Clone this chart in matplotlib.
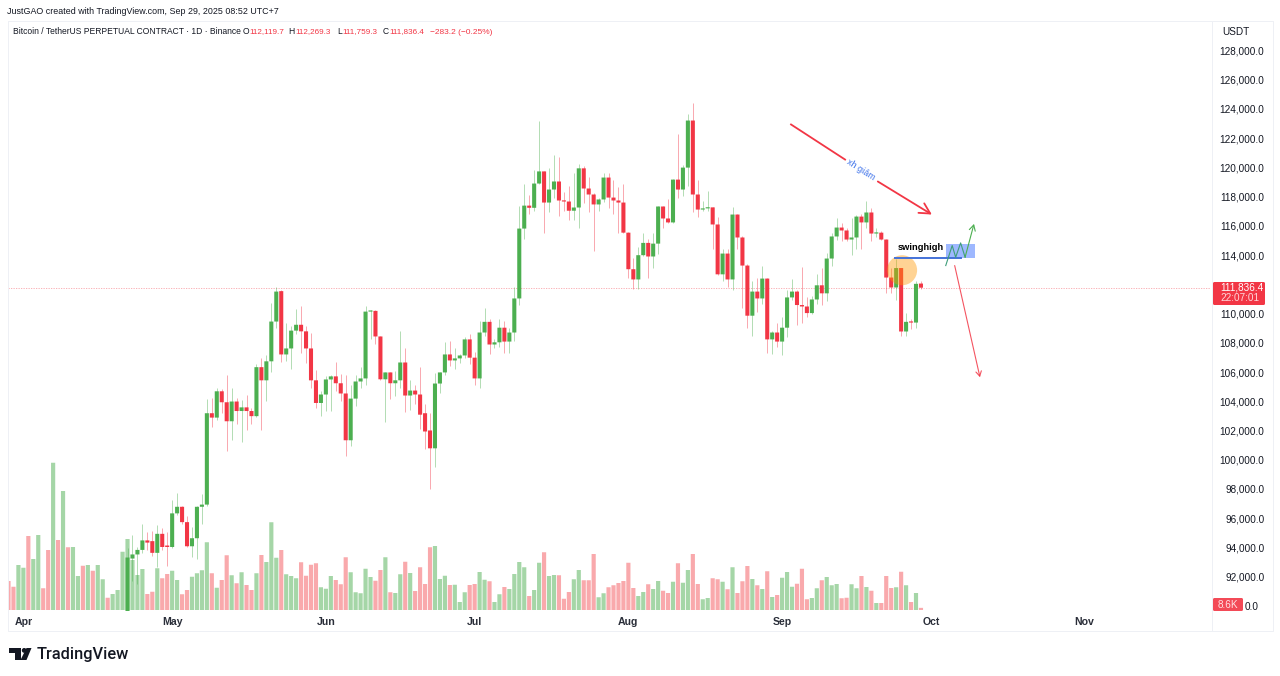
import matplotlib
matplotlib.use('Agg')
import matplotlib.pyplot as plt
import numpy as np
from matplotlib.patches import Ellipse, FancyBboxPatch, Polygon, Rectangle

plt.rcParams['font.family'] = ['Liberation Sans', 'DejaVu Sans']

RED = '#f23645'
GREEN = '#4caf50'
DARK = '#131722'

# daily bars from 2025-03-29, price candles start at bar 24 (earlier ones sit below the pane)
candle_start = 24

open_ = [
    87500, 93310, 93590, 93900, 94550, 94500, 93700, 95000, 94200, 94100,
    96400, 96850, 95800, 94150, 94700, 96850, 97000, 103250, 102950, 104750,
    104000, 102700, 104050, 103400, 103650, 103400, 103050, 106400, 105500, 106800,
    109520, 111600, 107270, 107680, 108900, 109300, 108850, 107680, 105500, 103950,
    104530, 105560, 105770, 105300, 104600, 101400, 104250, 105420, 105630, 110200,
    110250, 108500, 105570, 106040, 105300, 105500, 106720, 104460, 104800, 104530,
    103250, 102070, 100850, 105280, 106040, 107270, 106860, 107000, 107200, 108300,
    107050, 105630, 108770, 109500, 107950, 108100, 109100, 108150, 108770, 111100,
    115880, 117450, 117300, 118960, 119790, 117660, 118550, 119100, 117800, 117730,
    117100, 117320, 120000, 118620, 118210, 117530, 117870, 119370, 118000, 117800,
    117660, 115600, 113100, 112400, 114060, 114900, 113970, 114850, 117390, 116570,
    116300, 119230, 118550, 120050, 123270, 118210, 117180, 117260, 117330, 116160,
    112750, 114170, 112400, 116840, 115270, 113350, 109920, 111570, 111100, 112460,
    108300, 108770, 108150, 109100, 111170, 111570, 110650, 110550, 110100, 111030,
    112000, 111450, 113830, 115340, 115950, 115750, 115130, 115270, 116700, 116300,
    116980, 115540, 115600, 115130, 112530, 111850, 113180, 108840, 109500, 109450,
    112119.7,
]
close = [
    93380, 93590, 93900, 94550, 94400, 93700, 95000, 94100, 94100, 96400,
    96850, 95800, 94150, 94700, 96850, 97000, 103250, 102950, 104750, 104000,
    102700, 104050, 103400, 103650, 103400, 103050, 106400, 105500, 106800, 109520,
    111570, 107270, 107680, 108900, 109300, 108850, 107680, 105500, 103950, 104530,
    105560, 105770, 105300, 104600, 101400, 104250, 105420, 105630, 110200, 110250,
    108500, 105570, 106040, 105300, 105500, 106720, 104460, 104800, 104530, 103150,
    102000, 100850, 105280, 106040, 107270, 106860, 107000, 107200, 108300, 107050,
    105630, 108770, 109500, 107950, 108100, 109100, 108150, 108770, 111100, 115880,
    117450, 117300, 118960, 119790, 117660, 118550, 119100, 117800, 117730, 117100,
    117320, 120000, 118620, 118210, 117530, 117870, 119370, 118000, 117800, 117660,
    115600, 113100, 112400, 114060, 114900, 113970, 114850, 117390, 116570, 116300,
    119230, 118550, 120050, 123270, 118210, 117180, 117260, 117330, 116160, 112750,
    114170, 112400, 116840, 115270, 113350, 109920, 111570, 111100, 112460, 108300,
    108770, 108150, 109100, 111170, 111570, 110650, 110550, 110100, 111030, 112000,
    111450, 113830, 115340, 115950, 115750, 115130, 115270, 116700, 116300, 116980,
    115540, 115600, 115130, 112530, 111850, 113180, 108840, 109500, 109450, 112100,
    111836.4,
]
high = [
    94000, 94900, 94100, 95700, 95100, 95200, 95600, 95400, 95100, 97300,
    97800, 96900, 96200, 95450, 96900, 97700, 104250, 104300, 104950, 104900,
    105850, 104950, 104300, 104150, 104530, 103600, 106650, 107060, 107200, 110800,
    111850, 111650, 109400, 109250, 110350, 110600, 109230, 108770, 106240, 104800,
    105770, 105850, 106720, 105900, 105850, 105200, 105850, 106440, 110550, 110300,
    110300, 108550, 106100, 106100, 106170, 108840, 107680, 105500, 105150, 106440,
    103900, 103250, 105970, 106100, 108100, 108220, 107680, 107300, 108450, 108700,
    107470, 109590, 110430, 109700, 108360, 109700, 109590, 109100, 111900, 117400,
    118900, 118150, 119860, 123270, 119800, 120050, 120880, 120800, 118350, 118760,
    119650, 120300, 120150, 119440, 118280, 118000, 119710, 119710, 119230, 118690,
    118900, 115650, 113900, 114650, 115600, 115200, 115600, 117450, 117450, 117870,
    119250, 122380, 120260, 123700, 124500, 119170, 117800, 118480, 117350, 116640,
    114500, 114500, 117330, 116900, 115400, 113490, 112270, 112530, 113350, 112530,
    108840, 109450, 109800, 111650, 112460, 111650, 113280, 111170, 111300, 112800,
    113150, 114240, 115600, 116570, 116230, 115950, 116570, 116840, 116900, 117800,
    117320, 115950, 115700, 115150, 113150, 113830, 113200, 110100, 109700, 112270,
    112269.3,
]
low = [
    87000, 91800, 91600, 93700, 93900, 93500, 92700, 93900, 92800, 94000,
    96300, 95700, 94100, 93400, 93300, 95700, 96900, 102300, 102800, 103250,
    100700, 101400, 102500, 101300, 102100, 102500, 103000, 102070, 104100, 106040,
    109100, 106720, 106800, 106250, 108700, 107400, 106700, 105000, 103600, 103050,
    103400, 103400, 104800, 104100, 100300, 101000, 103750, 104950, 105200, 108300,
    108000, 105500, 102650, 104250, 104400, 104950, 103300, 103450, 103900, 102200,
    100770, 98100, 99550, 104600, 105850, 106500, 106300, 106700, 107050, 106650,
    105150, 105000, 108500, 107270, 107680, 107750, 107400, 107400, 108220, 110650,
    115200, 116850, 117100, 118900, 115600, 117000, 118000, 116770, 117100, 116500,
    116500, 115900, 117660, 117000, 114340, 117050, 117730, 117320, 116850, 115600,
    115550, 112500, 111750, 111750, 113970, 112500, 113200, 114170, 115900, 116270,
    116270, 118000, 118140, 118760, 117000, 116700, 117100, 117100, 114500, 112680,
    112270, 111850, 111660, 114450, 110480, 109100, 108500, 110200, 110750, 107400,
    107270, 107750, 107200, 108430, 111000, 109300, 109440, 109800, 110030, 110750,
    110650, 110900, 113350, 115070, 115000, 115000, 114040, 114500, 114450, 115950,
    115000, 115270, 115070, 111450, 111450, 111000, 108500, 108500, 109000, 109050,
    111759.3,
]

# volume in thousands, one per bar
volume = [
    116, 93, 180, 169, 296, 204, 300, 87, 240, 589, 280, 476, 251, 252, 136, 177, 180, 157, 180, 123,
    49, 64, 80, 233, 284, 200, 140, 164, 64, 73, 167, 127, 144, 157, 120, 63, 80, 133, 147, 159,
    271, 147, 89, 120, 219, 139, 107, 151, 100, 80, 147, 220, 192, 351, 209, 240, 143, 136, 127, 191,
    137, 181, 187, 91, 85, 136, 120, 103, 211, 151, 71, 67, 165, 132, 117, 160, 211, 71, 68, 143,
    193, 148, 76, 171, 104, 251, 256, 124, 137, 100, 101, 32, 71, 100, 104, 152, 121, 115, 32, 63,
    92, 84, 144, 192, 171, 56, 80, 189, 231, 136, 140, 139, 45, 72, 123, 160, 119, 119, 224, 51,
    67, 91, 99, 108, 116, 189, 88, 56, 72, 103, 84, 116, 77, 68, 113, 187, 109, 160, 224, 104,
    43, 48, 127, 123, 113, 83, 171, 68, 115, 176, 124, 99, 84, 155, 52, 60, 129, 152, 93, 105,
    165, 43, 48, 87, 119, 132, 99, 104, 47, 49, 103, 87, 136, 92, 77, 28, 28, 136, 88, 91,
    153, 99, 32, 68, 8.6,
]
# up/down of the first bars, the candles for those are off the pane
early_up = [0, 0, 1, 1, 0, 1, 1, 0, 0, 1, 0, 1, 0, 1, 1, 0, 1, 0, 1, 1, 0, 1, 1, 1]

month_labels = ['Apr', 'May', 'Jun', 'Jul', 'Aug', 'Sep', 'Oct', 'Nov']
month_bars = [3, 33, 64, 94, 125, 156, 186, 217]
price_ticks = [p for p in range(92000, 130000, 2000) if p != 112000]

last_price = close[-1]

# drawings on the chart, (bar, price)
trend_a = [(157.8, 123000), (168.7, 120600)]
trend_b = [(175.3, 119100), (186.2, 116840)]
zigzag_bars = [189.0, 190.3, 191.0, 192.0, 192.9, 194.7]
zigzag_prices = [113350, 114720, 113920, 114900, 113920, 116200]
down_arrow = [(190.8, 113350), (195.9, 105710)]
box_bars = (189.0, 194.9)
box_prices = (113850, 114840)
swing_bars = (178.7, 192.0)
swing_price = 113850
circle_center = (180.2, 113030)

W, H = 1280, 676
left, right, top, bottom = 8, 1211, 21, 611
x0 = 8.5
px_per_bar = 4.959
price_per_px = 68.4


def price_at(y):
    return 117800 - price_per_px * (y - 200.5)


fig = plt.figure(figsize=(W / 100, H / 100), dpi=100, facecolor='white')
rect = [left / W, 1 - bottom / H, (right - left) / W, (bottom - top) / H]

ax_vol = fig.add_axes(rect)
ax = fig.add_axes(rect, sharex=ax_vol)
ax.patch.set_visible(False)

# volume first so the candles stay on top
x_all = np.arange(len(volume))
up_flags = early_up + [c >= o for o, c in zip(open_, close)]
vol_colors = ['#a5d6a7' if u else '#f9a9ac' for u in up_flags]
vol_bars = ax_vol.bar(x_all, volume, width=0.84, color=vol_colors, linewidth=0)
for b in vol_bars:
    b.set_snap(False)
ax_vol.set_ylim(-4, (bottom - top - 1) * 4)
ax_vol.axis('off')

x = np.arange(candle_start, candle_start + len(close))
o = np.array(open_)
c = np.array(close)
colors = [GREEN if b >= a else RED for a, b in zip(open_, close)]
ax.vlines(x, low, high, colors=colors, linewidth=0.6, alpha=0.5, zorder=2)
bodies = ax.bar(x, np.maximum(np.abs(c - o), 80), bottom=np.minimum(o, c), width=0.82, color=colors, linewidth=0, zorder=3)
for b in bodies:
    b.set_snap(False)

ax.set_xlim((left - x0) / px_per_bar, (right - x0) / px_per_bar)
ax.set_ylim(price_at(bottom), price_at(top))

ax.axhline(last_price, color=RED, lw=0.6, ls=(0, (1.5, 1.5)), alpha=0.45, zorder=1)

# drawings
ax.add_patch(Ellipse(circle_center, 30 / px_per_bar, 30 * price_per_px, color='#ff9800', alpha=0.42, lw=0, zorder=4))
ax.add_patch(Rectangle((box_bars[0], box_prices[0]), box_bars[1] - box_bars[0], box_prices[1] - box_prices[0],
                       color='#2962ff', alpha=0.45, lw=0, zorder=4))
ax.plot(swing_bars, [swing_price, swing_price], color='#4472d8', lw=1.4, zorder=5)
ax.text(179.4, price_at(247.7), 'swinghigh', fontsize=6.7, fontweight='bold', color='black', va='center', zorder=6)

ax.plot(*zip(*trend_a), color=RED, lw=1.3, zorder=5)
ax.annotate('', xy=trend_b[1], xytext=trend_b[0], zorder=5,
            arrowprops=dict(arrowstyle='->,head_length=0.75,head_width=0.4', color=RED, lw=1.3, shrinkA=0, shrinkB=0))
ax.text(171.8, price_at(169.5), 'xh giảm', fontsize=6.5, color='#3f73ea', rotation=-32.7,
        rotation_mode='anchor', ha='center', va='center', zorder=6)
ax.plot(zigzag_bars[:-1], zigzag_prices[:-1], color='#3f9e7a', lw=0.8, zorder=5)
ax.annotate('', xy=(zigzag_bars[-1], zigzag_prices[-1]), xytext=(zigzag_bars[-2], zigzag_prices[-2]), zorder=5,
            arrowprops=dict(arrowstyle='->,head_length=0.4,head_width=0.22', color=GREEN, lw=0.8, shrinkA=0, shrinkB=0))
ax.annotate('', xy=down_arrow[1], xytext=down_arrow[0], zorder=5,
            arrowprops=dict(arrowstyle='->,head_length=0.35,head_width=0.2', color=RED, lw=0.8, alpha=0.85, shrinkA=0, shrinkB=0))

# axes text
ax.set_xticks(month_bars)
ax.set_xticklabels(month_labels, fontsize=7.6, fontweight='bold', color='#2a2e39')
ax.xaxis.set_tick_params(length=0, pad=4.5)
ax.yaxis.tick_right()
ax.set_yticks(price_ticks)
ax.set_yticklabels([f'{p:,.1f}' for p in price_ticks], fontsize=7.2, color=DARK, ha='right', va='center')
ax.yaxis.set_tick_params(length=0, pad=38.5)
for s in ax.spines.values():
    s.set_visible(False)

# page furniture, in pixels
page = fig.add_axes([0, 0, 1, 1], zorder=10)
page.set_xlim(0, W)
page.set_ylim(H, 0)
page.axis('off')
page.patch.set_visible(False)

frame = '#eef0f5'
page.plot([7.5, 1272.5, 1272.5, 7.5, 7.5], [21, 21, 631, 631, 21], color=frame, lw=0.7)
page.plot([1211.5, 1211.5], [21, 631], color=frame, lw=0.7)
page.text(7, 12, 'JustGAO created with TradingView.com, Sep 29, 2025 08:52 UTC+7', fontsize=6.4, color=DARK, va='center')
page.text(13, 32, 'Bitcoin / TetherUS PERPETUAL CONTRACT · 1D · Binance', fontsize=6.15, color=DARK, va='center')
for xp, lab, val_x, val in [(243, 'O', 249, '112,119.7'), (288, 'H', 295, '112,269.3'),
                            (337, 'L', 342, '111,759.3'), (383, 'C', 389, '111,836.4')]:
    page.text(xp, 32, lab, fontsize=6.15, color=DARK, va='center')
    page.text(val_x, 32, val, fontsize=5.9, color=RED, va='center')
page.text(430, 32, '−283.2 (−0.25%)', fontsize=6.0, color=RED, va='center')
page.text(1222, 32, 'USDT', fontsize=7.2, color=DARK, va='center')

page.add_patch(FancyBboxPatch((1214, 283), 50, 21, boxstyle='round,pad=1,rounding_size=1.5', fc=RED, ec='none'))
page.text(1220, 287.8, f'{last_price:,.1f}', fontsize=7.2, color='white', va='center')
page.text(1220, 298, '22:07:01', fontsize=7.2, color='#ffd5d9', va='center')
page.add_patch(FancyBboxPatch((1214, 599), 28, 11, boxstyle='round,pad=1,rounding_size=1.5', fc=RED, ec='none', alpha=0.9))
page.text(1228, 604.7, f'{volume[-1]}K', fontsize=7.2, color='#ffe3e5', va='center', ha='center')
page.text(1245, 606.7, '0.0', fontsize=7.2, color=DARK, va='center')

# TradingView logo
page.add_patch(Polygon([(9, 648), (21, 648), (21, 660), (15, 660), (15, 653), (9, 653)], fc=DARK, ec='none'))
page.add_patch(Ellipse((24.2, 650.4), 4.8, 4.8, fc=DARK, ec='none'))
page.add_patch(Polygon([(26.5, 648.0), (31.5, 648.0), (26.5, 660), (20.5, 660)], fc=DARK, ec='none'))
page.text(36.5, 654, 'TradingView', fontsize=11.8, fontfamily='Roboto', fontweight='medium', color=DARK, va='center')

fig.savefig('out.png', dpi=100, facecolor='white')
